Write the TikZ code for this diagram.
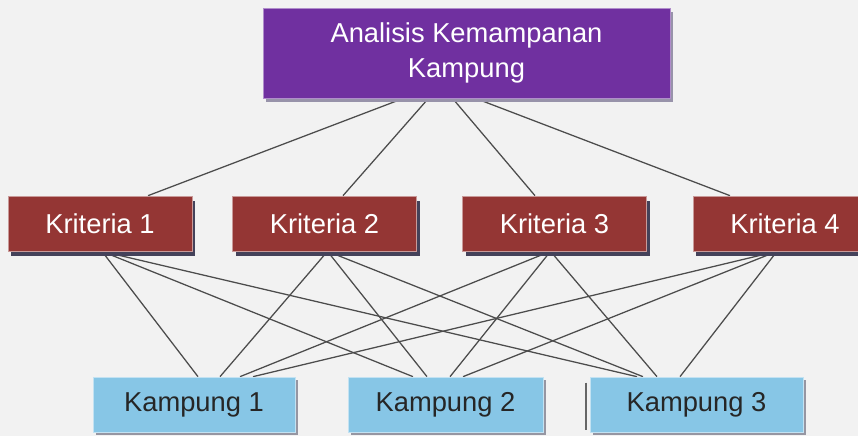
\documentclass[tikz,border=0pt]{standalone}
\usepackage{fontspec}
\setmainfont{Liberation Sans}
\usetikzlibrary{calc,shadows}
\definecolor{paper}{RGB}{242,242,242}
\definecolor{goalcol}{RGB}{112,48,160}
\definecolor{goalshade}{RGB}{152,147,170}
\definecolor{kricol}{RGB}{148,54,52}
\definecolor{krishade}{RGB}{68,66,90}
\definecolor{kamcol}{RGB}{135,198,230}
\definecolor{kamshade}{RGB}{150,150,162}
\pgfdeclarelayer{paperlayer}
\pgfdeclarelayer{linklayer}
\pgfsetlayers{paperlayer,linklayer,main}

\begin{document}
\begin{tikzpicture}[
x=0.75pt, y=-0.75pt,
goalbox/.style={fill=goalcol, draw=goalcol!55!white, line width=0.5pt, text=white,
align=center, inner sep=0pt, minimum width=305.25pt, minimum height=67.5pt,
font=\fontsize{20.5}{26}\selectfont,
drop shadow={shadow xshift=2.5pt, shadow yshift=-3pt, fill=goalshade, opacity=1}},
kribox/.style={fill=kricol, draw=kricol!50!white, line width=0.5pt, text=white,
inner sep=0pt, minimum width=138pt, minimum height=41.25pt,
font=\fontsize{20.5}{24}\selectfont,
drop shadow={shadow xshift=2.25pt, shadow yshift=-3.75pt, fill=krishade, opacity=1}},
kambox/.style={fill=kamcol, draw=kamcol!50!white, line width=0.5pt, text=black!85,
inner sep=0pt, minimum height=41.25pt, font=\fontsize{20.5}{24}\selectfont,
drop shadow={shadow xshift=2.25pt, shadow yshift=-2.25pt, fill=kamshade, opacity=1}},
link/.style={draw=black!70, line width=0.95pt}
]
\begin{pgfonlayer}{paperlayer}
\fill[paper] (0,0) rectangle (858,436);
\end{pgfonlayer}
\useasboundingbox (0,0) rectangle (858,436);

% goal
\node[goalbox] (goal) at (466.5,53) {Analisis Kemampanan\\Kampung};

% kriteria
\node[kribox] (kri1) at (100,223.5) {Kriteria 1};
\node[kribox] (kri2) at (324.5,223.5) {Kriteria 2};
\node[kribox] (kri3) at (554.5,223.5) {Kriteria 3};
\node[kribox] (kri4) at (785,223.5) {Kriteria 4};

% alternatif
\node[kambox, minimum width=151.5pt] (kam1) at (194,404.5) {Kampung 1};
\node[kambox, minimum width=146.25pt] (kam2) at (445.5,404.5) {Kampung 2};
\node[kambox, minimum width=159.75pt] (kam3) at (696.5,404.5) {Kampung 3};
\draw[black!60, line width=1.5pt] ($(kam3.north west)+(-4,6)$) -- ($(kam3.south west)+(-4,-2)$);

\begin{pgfonlayer}{linklayer}
\draw[link] ($(goal.south)+(-63,0)$) -- ($(kri1.north)+(48,0)$);
\draw[link] ($(goal.south)+(-38,0)$) -- ($(kri2.north)+(18.5,0)$);
\draw[link] ($(goal.south)+(-14,0)$) -- ($(kri3.north)+(-19.5,0)$);
\draw[link] ($(goal.south)+(9,0)$) -- ($(kri4.north)+(-55,0)$);

\draw[link] ($(kri1.south)+(2,0)$) -- ($(kam1.north)+(4,0)$);
\draw[link] ($(kri1.south)+(2,0)$) -- ($(kam2.north)+(-32.5,0)$);
\draw[link] ($(kri1.south)+(2,0)$) -- ($(kam3.north)+(-59.5,0)$);
\draw[link] ($(kri2.south)+(3,0)$) -- ($(kam1.north)+(26,0)$);
\draw[link] ($(kri2.south)+(3,0)$) -- ($(kam2.north)+(-18.5,0)$);
\draw[link] ($(kri2.south)+(3,0)$) -- ($(kam3.north)+(-53.5,0)$);
\draw[link] ($(kri3.south)+(-4,0)$) -- ($(kam1.north)+(46,0)$);
\draw[link] ($(kri3.south)+(-4,0)$) -- ($(kam2.north)+(4.5,0)$);
\draw[link] ($(kri3.south)+(-4,0)$) -- ($(kam3.north)+(-39.5,0)$);
\draw[link] ($(kri4.south)+(-8,0)$) -- ($(kam1.north)+(59,0)$);
\draw[link] ($(kri4.south)+(-8,0)$) -- ($(kam2.north)+(17.5,0)$);
\draw[link] ($(kri4.south)+(-8,0)$) -- ($(kam3.north)+(-16.5,0)$);
\end{pgfonlayer}
\end{tikzpicture}
\end{document}
